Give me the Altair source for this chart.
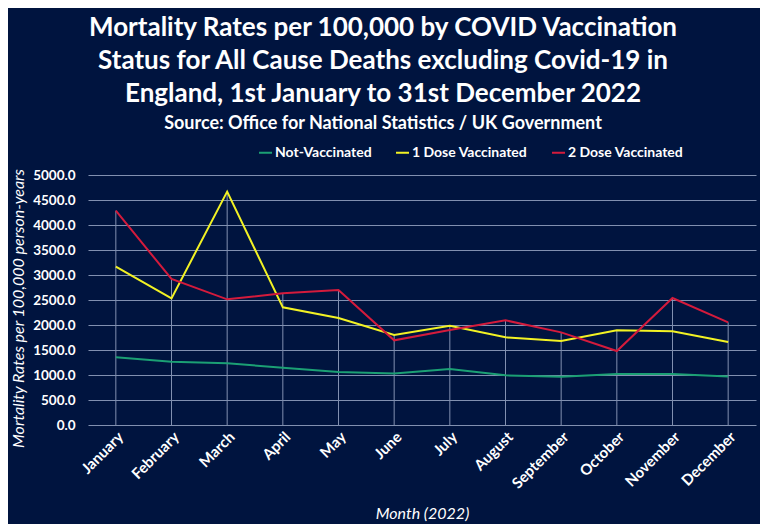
import altair as alt
import pandas as pd

months = ["January", "February", "March", "April", "May", "June", "July",
          "August", "September", "October", "November", "December"]
series_names = ["Not-Vaccinated", "1 Dose Vaccinated", "2 Dose Vaccinated"]
not_vaccinated = [1353, 1267, 1233, 1147, 1060, 1030, 1120, 993, 967, 1020, 1020, 970]
dose1 = [3167, 2533, 4667, 2353, 2140, 1800, 1987, 1753, 1680, 1893, 1873, 1660]
dose2 = [4287, 2920, 2513, 2633, 2700, 1693, 1900, 2093, 1853, 1480, 2540, 2053]
y_ticks = [0, 500, 1000, 1500, 2000, 2500, 3000, 3500, 4000, 4500, 5000]
colors = ["#1BA074", "#F2F224", "#D41B3C"]

rows = []
for name, vals in zip(series_names, [not_vaccinated, dose1, dose2]):
    for m, v in zip(months, vals):
        rows.append({"Month": m, "Series": name, "Rate": v})
df = pd.DataFrame(rows)

FONT = "Lato"
BG = "#00143F"
GRID = "#8190B0"

x = alt.X("Month:N", sort=months,
          scale=alt.Scale(paddingInner=0, paddingOuter=0),
          axis=alt.Axis(title="Month (2022)", labelAngle=-45, labelFont=FONT,
                        labelFontWeight="bold", labelFontSize=15, labelColor="white",
                        labelPadding=4, ticks=False, domain=False, grid=False,
                        titleFont=FONT, titleFontStyle="italic", titleFontWeight="normal",
                        titleFontSize=16, titleColor="white", titleY=88,
                        titleBaseline="middle"))

y_axis = alt.Axis(title="Mortality Rates per 100,000 person-years",
                  values=y_ticks, format=".1f", labelOverlap=False,
                  labelFont=FONT, labelFontWeight="bold", labelFontSize=13.5,
                  labelColor="white", labelPadding=13, ticks=False, domain=False,
                  grid=True, gridColor=GRID, gridWidth=1.2,
                  titleFont=FONT, titleFontStyle="italic", titleFontWeight="normal",
                  titleFontSize=16, titleColor="white", titleX=-70, titleY=133,
                  titleBaseline="middle")
y_scale = alt.Scale(domain=[0, 5000])

drop = alt.Chart(df).transform_aggregate(
    Max="max(Rate)", groupby=["Month"]
).mark_rule(color=GRID, strokeWidth=1).encode(
    x=x,
    y=alt.Y("Max:Q", scale=y_scale, axis=y_axis),
    y2=alt.datum(0),
)

lines = alt.Chart(df).mark_line(strokeWidth=2).encode(
    x=x,
    y=alt.Y("Rate:Q", scale=y_scale, axis=y_axis),
    color=alt.Color("Series:N",
                    scale=alt.Scale(domain=series_names, range=colors),
                    legend=alt.Legend(title=None, orient="none", direction="horizontal",
                                      legendX=170, legendY=-30,
                                      symbolType="stroke", symbolSize=169,
                                      symbolStrokeWidth=2, labelFont=FONT,
                                      labelFontWeight="bold", labelFontSize=14,
                                      labelColor="white", labelOffset=2,
                                      columnPadding=20)),
    order=alt.Order("Series:N"),
)

chart = alt.layer(drop, lines).properties(
    width=668, height=250,
    background=BG,
    padding={"left": 80, "top": 167, "right": 4, "bottom": 99},
    autosize=alt.AutoSizeParams(type="none"),
    title=alt.TitleParams(
        text=["Mortality Rates per 100,000 by COVID Vaccination",
              "Status for All Cause Deaths excluding Covid-19 in",
              "England, 1st January to 31st December 2022"],
        subtitle="Source: Office for National Statistics / UK Government",
        font=FONT, fontSize=26, fontWeight="bold", color="white", lineHeight=33,
        subtitleFont=FONT, subtitleFontSize=18, subtitleFontWeight="bold",
        subtitleColor="white", subtitlePadding=8,
        anchor="middle", frame="bounds", offset=12),
).configure_view(stroke=None).configure_axisY(labelOverlap=False)

chart.save("out.html", embed_options={"renderer": "svg", "actions": False})
